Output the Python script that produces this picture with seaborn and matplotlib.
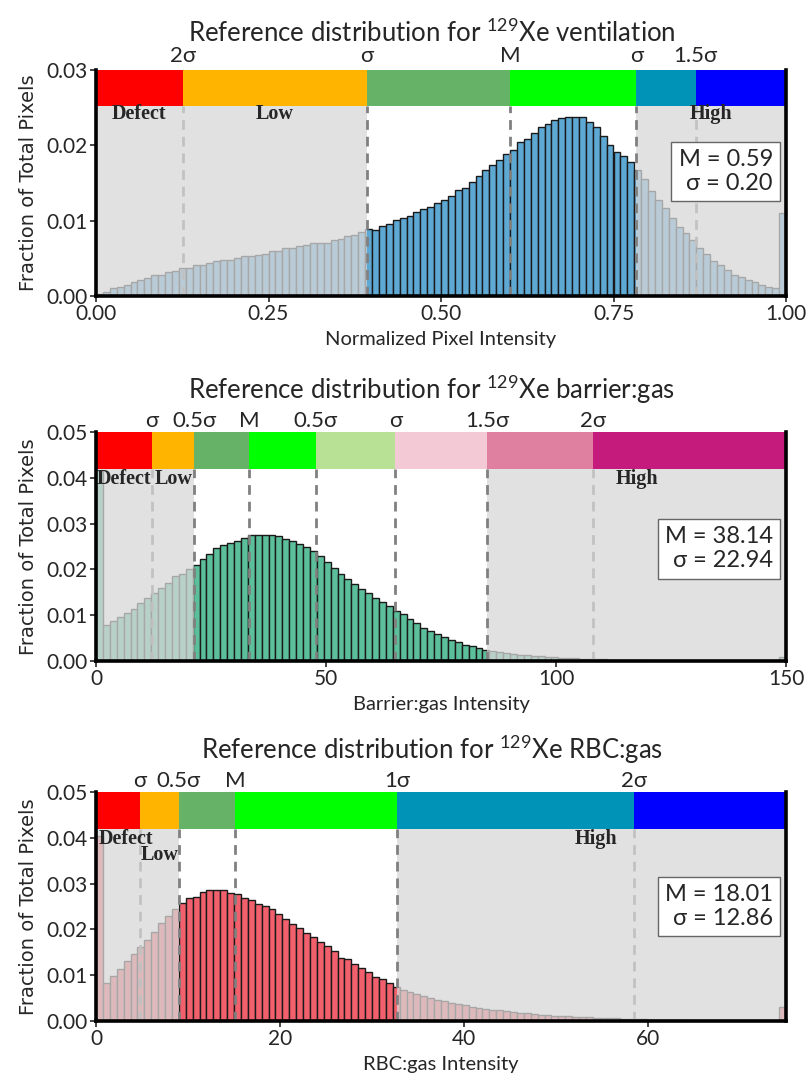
import numpy as np
import pandas as pd
import seaborn as sns
import matplotlib.pyplot as plt
from matplotlib import font_manager as fm
from matplotlib.ticker import FormatStrFormatter


# ---- data (fraction of pixels per bin) ----
vent_vals = [
    0.0002, 0.0005, 0.0010, 0.0012, 0.0015, 0.0018, 0.0021, 0.0024, 0.0028, 0.0028,
    0.0032, 0.0033, 0.0037, 0.0037, 0.0041, 0.0041, 0.0044, 0.0046, 0.0048, 0.0048,
    0.0050, 0.0053, 0.0053, 0.0054, 0.0056, 0.0060, 0.0060, 0.0064, 0.0064, 0.0066,
    0.0068, 0.0070, 0.0071, 0.0071, 0.0075, 0.0076, 0.0079, 0.0081, 0.0085, 0.0089,
    0.0087, 0.0093, 0.0096, 0.0101, 0.0104, 0.0106, 0.0112, 0.0115, 0.0118, 0.0123,
    0.0127, 0.0133, 0.0141, 0.0144, 0.0151, 0.0159, 0.0167, 0.0174, 0.0181, 0.0189,
    0.0194, 0.0205, 0.0209, 0.0216, 0.0224, 0.0228, 0.0233, 0.0236, 0.0237, 0.0237,
    0.0237, 0.0231, 0.0224, 0.0212, 0.0201, 0.0191, 0.0186, 0.0178, 0.0167, 0.0155,
    0.0140, 0.0128, 0.0117, 0.0104, 0.0092, 0.0083, 0.0075, 0.0064, 0.0056, 0.0047,
    0.0041, 0.0034, 0.0028, 0.0025, 0.0021, 0.0018, 0.0015, 0.0012, 0.0010, 0.0110,
]
bar_vals = [
    0.0415, 0.0078, 0.0087, 0.0095, 0.0104, 0.0114, 0.0127, 0.0138, 0.0148, 0.0160,
    0.0171, 0.0185, 0.0191, 0.0201, 0.0209, 0.0222, 0.0233, 0.0247, 0.0253, 0.0257,
    0.0261, 0.0268, 0.0275, 0.0276, 0.0276, 0.0275, 0.0273, 0.0267, 0.0263, 0.0255,
    0.0249, 0.0241, 0.0229, 0.0216, 0.0204, 0.0191, 0.0180, 0.0169, 0.0158, 0.0148,
    0.0138, 0.0129, 0.0119, 0.0109, 0.0102, 0.0091, 0.0082, 0.0073, 0.0065, 0.0058,
    0.0052, 0.0046, 0.0041, 0.0036, 0.0032, 0.0028, 0.0025, 0.0022, 0.0020, 0.0017,
    0.0016, 0.0014, 0.0013, 0.0011, 0.0010, 0.0009, 0.0008, 0.0007, 0.0006, 0.0006,
    0.0005, 0.0005, 0.0004, 0.0004, 0.0003, 0.0003, 0.0003, 0.0002, 0.0002, 0.0002,
    0.0001, 0.0001, 0.0001, 0.0001, 0.0001, 0.0001, 0.0001, 0.0001, 0.0001, 0.0001,
    0.0001, 0.0001, 0.0001, 0.0001, 0.0000, 0.0000, 0.0000, 0.0000, 0.0000, 0.0009,
]
rbc_vals = [
    0.0405, 0.0084, 0.0098, 0.0114, 0.0130, 0.0146, 0.0162, 0.0177, 0.0195, 0.0213,
    0.0229, 0.0245, 0.0257, 0.0269, 0.0270, 0.0282, 0.0287, 0.0285, 0.0286, 0.0279,
    0.0277, 0.0269, 0.0264, 0.0255, 0.0252, 0.0244, 0.0234, 0.0222, 0.0211, 0.0202,
    0.0193, 0.0184, 0.0172, 0.0164, 0.0152, 0.0137, 0.0135, 0.0124, 0.0115, 0.0106,
    0.0095, 0.0091, 0.0084, 0.0075, 0.0068, 0.0063, 0.0058, 0.0054, 0.0050, 0.0046,
    0.0043, 0.0040, 0.0037, 0.0034, 0.0031, 0.0029, 0.0027, 0.0025, 0.0023, 0.0021,
    0.0020, 0.0018, 0.0017, 0.0015, 0.0014, 0.0013, 0.0012, 0.0011, 0.0010, 0.0009,
    0.0009, 0.0008, 0.0007, 0.0007, 0.0006, 0.0006, 0.0005, 0.0005, 0.0004, 0.0004,
    0.0003, 0.0003, 0.0003, 0.0002, 0.0002, 0.0002, 0.0001, 0.0001, 0.0001, 0.0001,
    0.0001, 0.0001, 0.0001, 0.0001, 0.0001, 0.0001, 0.0001, 0.0000, 0.0000, 0.0030,
]

vent_range = (0.0, 1.0)
bar_range = (0.0, 150.0)
rbc_range = (0.0, 75.0)

# threshold positions and the labels printed above the colour band
vent_cuts = [0.1257, 0.3925, 0.600, 0.783, 0.869]
vent_cut_labels = ["2σ", "σ", "M", "σ", "1.5σ"]
bar_cuts = [12.2, 21.4, 33.3, 47.8, 65.1, 85.1, 108.1]
bar_cut_labels = ["σ", "0.5σ", "M", "0.5σ", "σ", "1.5σ", "2σ"]
rbc_cuts = [4.8, 9.0, 15.1, 32.7, 58.5]
rbc_cut_labels = ["σ", "0.5σ", "M", "1σ", "2σ"]

vent_stats = ("0.59", "0.20")
bar_stats = ("38.14", "22.94")
rbc_stats = ("18.01", "12.86")

bin_names = ["Defect", "Low", "High"]

# colours
vent_band = ["#ff0000", "#ffb400", "#66b266", "#00ff00", "#0093b8", "#0000ff"]
bar_band = ["#ff0000", "#ffb400", "#66b266", "#00ff00", "#b8e196",
            "#f2c9d5", "#e080a1", "#c51b7d"]
rbc_band = ["#ff0000", "#ffb400", "#66b266", "#00ff00", "#0093b8", "#0000ff"]


def pick_font(names):
    for n in names:
        try:
            fm.findfont(fm.FontProperties(family=n), fallback_to_default=False)
            return n
        except ValueError:
            pass
    return "DejaVu Sans"


sns.set_style("ticks")
main_font = pick_font(["Lato", "Open Sans", "Noto Sans"])
plt.rcParams["font.family"] = [main_font, "DejaVu Sans"]
plt.rcParams["mathtext.fontset"] = "custom"
plt.rcParams["mathtext.rm"] = main_font
plt.rcParams["mathtext.default"] = "regular"


def draw_panel(ax, vals, xrange_, color, cuts, cut_labels, band, white, ytop,
               name_pos, stats, title, xlabel, xticks, xfmt, stat_y, title_off, top_pad):
    n = len(vals)
    step = (xrange_[1] - xrange_[0]) / n
    centers = xrange_[0] + step * (np.arange(n) + 0.5)
    df = pd.DataFrame({"x": centers, "w": vals})
    band_lo = ytop * 0.84

    sns.histplot(data=df, x="x", weights="w", bins=n, binrange=xrange_, ax=ax,
                 color=color, alpha=1, edgecolor="#1a1a1a", linewidth=1.0, zorder=2)

    # grey wash outside the "normal" range
    lo, hi = white
    for a, b in [(xrange_[0], lo), (hi, xrange_[1])]:
        ax.axvspan(a, b, ymin=0, ymax=band_lo / ytop, color="#d8d8d8",
                   alpha=0.75, lw=0, zorder=3)

    # colour band along the top
    stops = [xrange_[0]] + cuts + [xrange_[1]]
    for i, c in enumerate(band):
        ax.axvspan(stops[i], stops[i + 1], ymin=band_lo / ytop, ymax=1,
                   color=c, lw=0, zorder=4)

    for t in cuts:
        z = 4 if lo - 1e-9 <= t <= hi + 1e-9 else 2.5
        ax.vlines(t, 0, band_lo, colors="#808080", linestyles=(0, (3.5, 2.5)),
                  linewidth=2, zorder=z)

    for name, (x, y) in zip(bin_names, name_pos):
        ax.text(x, y, name, ha="center", va="center", fontsize=14.5,
                fontweight="bold", family=["Liberation Serif", "DejaVu Serif"],
                zorder=6)

    ax.text(0.981, stat_y, f"M = {stats[0]}\nσ = {stats[1]}", transform=ax.transAxes,
            ha="right", va="center", multialignment="right", fontsize=17,
            linespacing=1.2, zorder=7,
            bbox=dict(boxstyle="square,pad=0.3", fc="white", ec="#666666", lw=1))

    ax.set_xlim(*xrange_)
    ax.set_ylim(0, ytop)
    ax.set_xticks(xticks)
    ax.set_yticks(np.arange(0, ytop + 1e-9, 0.01))
    ax.xaxis.set_major_formatter(FormatStrFormatter(xfmt))
    ax.yaxis.set_major_formatter(FormatStrFormatter("%.2f"))
    ax.tick_params(axis="both", labelsize=15, length=4, width=1.2, pad=2)
    ax.set_xlabel(xlabel, fontsize=14.5, labelpad=5)
    ax.set_ylabel("Fraction of Total Pixels", fontsize=14, family="DejaVu Sans",
                  labelpad=6)

    sec = ax.secondary_xaxis("top")
    sec.set_xticks(cuts, labels=cut_labels)
    sec.tick_params(length=0, labelsize=16, pad=top_pad)
    sec.spines["top"].set_visible(False)

    ax.spines["top"].set_visible(False)
    for s in ["left", "bottom", "right"]:
        ax.spines[s].set_linewidth(2.6)
        ax.spines[s].set_color("black")
        ax.spines[s].set_zorder(8)

    ax.annotate(title, xy=(0.487, 1), xycoords="axes fraction",
                xytext=(0, title_off), textcoords="offset points",
                ha="center", va="baseline", fontsize=18.5)


fig = plt.figure(figsize=(8.11, 10.76), dpi=100)
W, H = 811, 1076
left, width = 96 / W, 690 / W
ax1 = fig.add_axes([left, 1 - 296 / H, width, 226 / H])
ax2 = fig.add_axes([left, 1 - 661 / H, width, 229 / H])
ax3 = fig.add_axes([left, 1 - 1021 / H, width, 229 / H])

draw_panel(ax1, vent_vals, vent_range, "#5ea8d4", vent_cuts, vent_cut_labels,
           vent_band, (0.3925, 0.783), 0.03,
           [(0.063, 0.0242), (0.259, 0.0242), (0.892, 0.0242)], vent_stats,
           "Reference distribution for $^{129}$Xe ventilation",
           "Normalized Pixel Intensity", [0, 0.25, 0.5, 0.75, 1.0], "%.2f",
           0.55, 20, 3)
draw_panel(ax2, bar_vals, bar_range, "#5cbf9b", bar_cuts, bar_cut_labels,
           bar_band, (21.4, 85.1), 0.05,
           [(6.1, 0.0397), (16.8, 0.0397), (117.5, 0.0397)], bar_stats,
           "Reference distribution for $^{129}$Xe barrier:gas",
           "Barrier:gas Intensity", [0, 50, 100, 150], "%d",
           0.49, 24, 0.5)
draw_panel(ax3, rbc_vals, rbc_range, "#f2606d", rbc_cuts, rbc_cut_labels,
           rbc_band, (9.0, 32.7), 0.05,
           [(3.3, 0.0397), (6.9, 0.0362), (54.4, 0.0397)], rbc_stats,
           "Reference distribution for $^{129}$Xe RBC:gas",
           "RBC:gas Intensity", [0, 20, 40, 60], "%d",
           0.50, 24, 0.5)

fig.savefig("out.png", dpi=100)
